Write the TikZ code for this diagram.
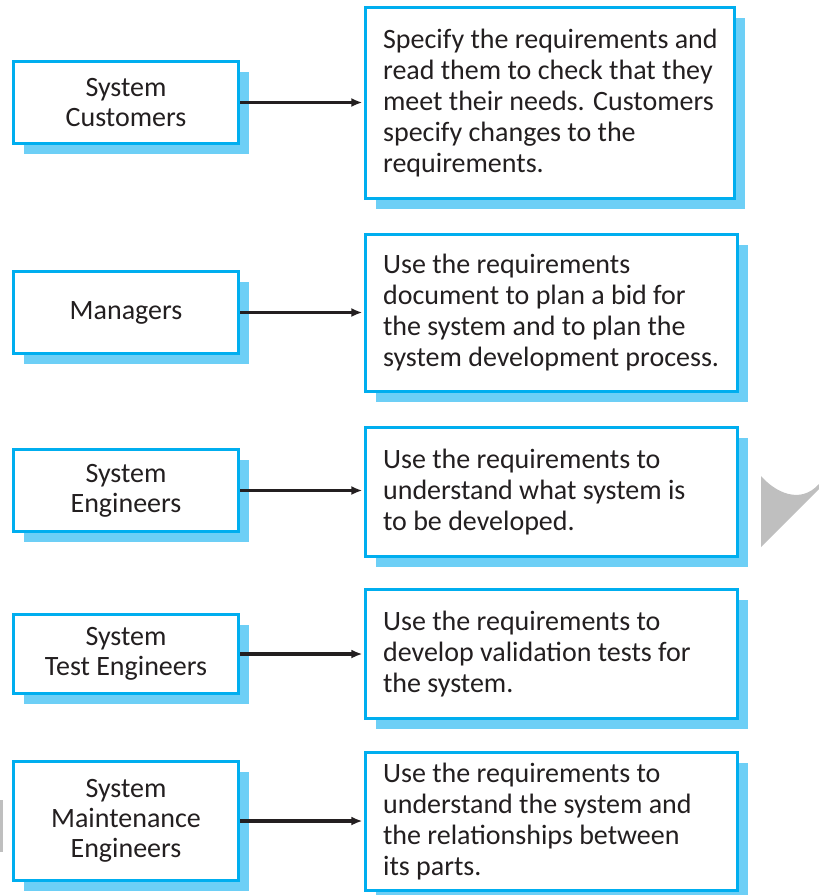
\documentclass[tikz,border=0pt]{standalone}
\usepackage{fontspec}
\setmainfont{Carlito}
\usetikzlibrary{shadows,arrows.meta}
\definecolor{boxblue}{HTML}{00AEEF}
\definecolor{shadowblue}{HTML}{6DCFF6}
\definecolor{inkdark}{HTML}{231F20}
\definecolor{markgray}{HTML}{BFBFBF}
\tikzset{
  shadowbox/.style={draw=boxblue, line width=3.2pt, fill=white, rectangle, inner sep=0pt,
    drop shadow={shadow xshift=10pt, shadow yshift=-10pt, fill=shadowblue, opacity=1}},
  rolebox/.style={shadowbox, minimum width=225pt},
  usebox/.style={shadowbox, minimum width=372pt},
  roletext/.style={text=inkdark, align=center, font=\fontsize{28}{30}\selectfont, inner sep=0pt},
  usetext/.style={text=inkdark, align=left, anchor=west, font=\fontsize{28}{31}\selectfont, inner sep=0pt},
  link/.style={draw=inkdark, line width=3.2pt, -{Latex[length=11pt,width=9pt]}, shorten >=1.5pt}
}
\begin{document}
\begin{tikzpicture}[x=1pt,y=-1pt]
\useasboundingbox (0,0) rectangle (819,895);
% gray decorations
\fill[markgray] (761,476) .. controls (775,492) and (800,505) .. (819,484) -- (819,489) -- (761,547) -- cycle;
\fill[markgray] (0,800) rectangle (2.5,852);
% left boxes
\node[rolebox, minimum height=82pt] (l1) at (126,102.5) {};
\node[rolebox, minimum height=82pt] (l2) at (126,312.5) {};
\node[rolebox, minimum height=82pt] (l3) at (126,490.5) {};
\node[rolebox, minimum height=79pt] (l4) at (126,654) {};
\node[rolebox, minimum height=119pt] (l5) at (126,821) {};
\node[roletext] (lt1) at (l1.center) {System\\Customers};
\node[roletext] (lt2) at (l2.center) {Managers};
\node[roletext] (lt3) at (l3.center) {System\\Engineers};
\node[roletext] (lt4) at (l4.center) {System\\Test Engineers};
\node[roletext] (lt5) at (l5.center) {System\\Maintenance\\Engineers};
% right boxes
\node[usebox, minimum width=369pt, minimum height=191pt] (r1) at (550,103) {};
\node[usebox, minimum height=157pt] (r2) at (551.5,313) {};
\node[usebox, minimum height=129pt] (r3) at (551.5,492) {};
\node[usebox, minimum height=129pt] (r4) at (551.5,654) {};
\node[usebox, minimum height=138pt] (r5) at (551.5,821.5) {};
\node[usetext] (rt1) at ([xshift=19pt]r1.west) {Specify the requirements and\\read them to check that they\\meet their needs. Customers\\specify changes to the\\requirements.};
\node[usetext] (rt2) at ([xshift=19pt]r2.west) {Use the requirements\\document to plan a bid for\\the system and to plan the\\system development process.};
\node[usetext] (rt3) at ([xshift=19pt]r3.west) {Use the requirements to\\understand what system is\\to be developed.};
\node[usetext] (rt4) at ([xshift=19pt]r4.west) {Use the requirements to\\develop validation tests for\\the system.};
\node[usetext] (rt5) at ([xshift=19pt]r5.west) {Use the requirements to\\understand the system and\\the relationships between\\its parts.};
% connectors
\draw[link] (l1.east) -- (l1.east -| r1.west);
\draw[link] (l2.east) -- (l2.east -| r2.west);
\draw[link] (l3.east) -- (l3.east -| r3.west);
\draw[link] (l4.east) -- (l4.east -| r4.west);
\draw[link] (l5.east) -- (l5.east -| r5.west);
\end{tikzpicture}
\end{document}
